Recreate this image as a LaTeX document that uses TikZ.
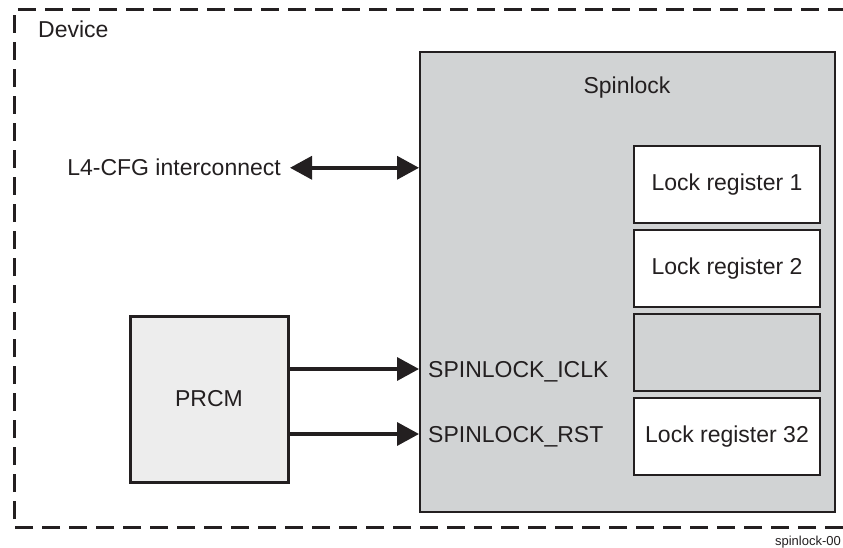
\documentclass[tikz,border=0pt]{standalone}
\usepackage{fontspec}
\setmainfont{Liberation Sans}
\usetikzlibrary{arrows.meta,positioning}
\definecolor{tiblack}{HTML}{231F20}
\definecolor{spingray}{HTML}{D1D3D4}
\definecolor{prcmgray}{HTML}{EDEDED}
\tikzset{
  txt/.style={inner sep=0pt, text=tiblack, font=\fontsize{23}{27}\selectfont},
  blk/.style={txt, draw=tiblack},
  lockreg/.style={blk, fill=white, line width=2.5pt, minimum width=186pt, minimum height=77pt},
  sig/.style={draw=tiblack, line width=3.5pt, >={Triangle[length=22pt,width=23pt]}, ->},
  dblsig/.style={sig, <->}
}

\begin{document}
\begin{tikzpicture}[x=1pt, y=-1pt]
\useasboundingbox (0,0) rectangle (843,548);
% device frame
\draw[tiblack, line width=3pt, dash pattern=on 18pt off 9pt]
  (843,527) -- (14,527) -- (14,10) -- (843,10);
\node[txt, anchor=base west] (device) at (38,38) {Device};

% spinlock block
\node[blk, fill=spingray, line width=2pt, minimum width=415pt, minimum height=460pt] (spin) at (627.5,282) {};
\node[txt] (spintitle) at (627,88) {Spinlock};
\node[lockreg] (reg1) at (727,184.5) {Lock register 1};
\node[lockreg, below=4.5pt of reg1] (reg2) {Lock register 2};
\node[lockreg, fill=spingray, below=4.5pt of reg2] (regdots) {};
\node[lockreg, below=4.5pt of regdots] (reg32) {Lock register 32};

% interconnect
\node[txt, anchor=base east] (l4) at (281,176) {L4-CFG interconnect};
\draw[dblsig] ([xshift=9pt]l4.east) -- (spin.west |- l4.east);

% prcm
\node[blk, fill=prcmgray, line width=3pt, minimum width=158pt, minimum height=166pt] (prcm) at (209,399) {PRCM};
\node[txt, anchor=base west] (iclk) at (428,377) {SPINLOCK\_ICLK};
\node[txt, anchor=base west] (rst) at (428,442) {SPINLOCK\_RST};
\coordinate (iclkin) at ([yshift=8pt]iclk.base west);
\coordinate (rstin) at ([yshift=8pt]rst.base west);
\draw[sig] (prcm.east |- iclkin) -- (spin.west |- iclkin);
\draw[sig] (prcm.east |- rstin) -- (spin.west |- rstin);

\node[txt, anchor=base east, font=\fontsize{13}{15}\selectfont] (figid) at (841,545) {spinlock-00};
\end{tikzpicture}
\end{document}
